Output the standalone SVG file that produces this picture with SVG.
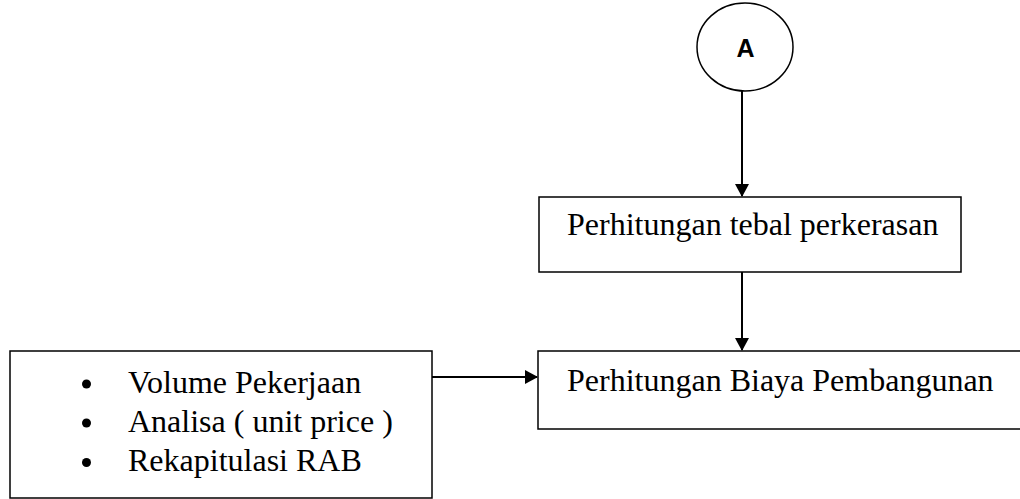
<svg xmlns="http://www.w3.org/2000/svg" width="1020" height="499" viewBox="0 0 1020 499">
<style>
.box{fill:#fff;stroke:#000;stroke-width:1.5}
.t{font-family:"Liberation Serif","Times New Roman",serif;font-size:32px;fill:#000}
.c{fill:none;stroke:#000;stroke-width:2}
</style>
<defs>
<marker id="ah" markerWidth="14" markerHeight="14" refX="12" refY="7" orient="auto" markerUnits="userSpaceOnUse">
<path d="M0,0 L13,7 L0,14 Z" fill="#000"/>
</marker>
</defs>
<rect width="1020" height="499" fill="#fff"/>
<g id="connectors">
<line class="c" x1="742" y1="91" x2="742" y2="196" marker-end="url(#ah)"/>
<line class="c" x1="742" y1="272" x2="742" y2="350" marker-end="url(#ah)"/>
<line class="c" x1="432" y1="377" x2="537" y2="377" marker-end="url(#ah)"/>
</g>
<g id="nodeA">
<ellipse cx="745" cy="47" rx="48" ry="44" fill="#fff" stroke="#000" stroke-width="1.5"/>
<text x="745.5" y="57" text-anchor="middle" font-family="Liberation Sans, Arial, sans-serif" font-weight="bold" font-size="25">A</text>
</g>
<g id="tebal">
<rect class="box" x="539" y="197" width="422" height="75"/>
<text class="t" x="567" y="235">Perhitungan tebal perkerasan</text>
</g>
<g id="biaya">
<rect class="box" x="538" y="351" width="490" height="78"/>
<text class="t" x="567" y="391">Perhitungan Biaya Pembangunan</text>
</g>
<g id="list">
<rect class="box" x="10" y="351" width="422" height="147"/>
<circle cx="86.5" cy="384" r="4.5"/>
<circle cx="86.5" cy="423" r="4.5"/>
<circle cx="86.5" cy="462.5" r="4.5"/>
<text class="t" x="128" y="393">Volume Pekerjaan</text>
<text class="t" x="128" y="432">Analisa ( unit price )</text>
<text class="t" x="128" y="471">Rekapitulasi RAB</text>
</g>
</svg>
